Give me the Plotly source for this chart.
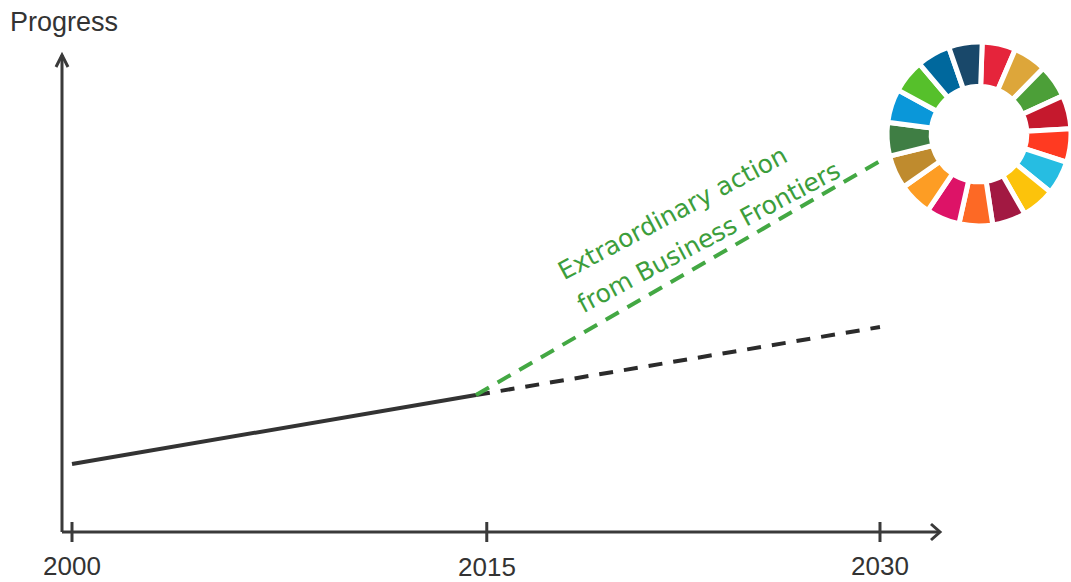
import plotly.graph_objects as go

# ---- data ----
hist_years = [2000, 2015]
hist_progress = [14.26, 28.72]
bau_years = [2015, 2030]
bau_progress = [28.72, 42.98]
extra_years = [2015, 2030]
extra_progress = [28.72, 77.78]

tick_positions = [2000, 2015.4, 2030]
tick_labels = ["2000", "2015", "2030"]
tick_label_shift = [-34, -35, -34]

y_title = "Progress"
extra_label_lines = ["Extraordinary action", "from Business Frontiers"]

sdg_goals = [str(i) for i in range(1, 18)]
sdg_share = [1] * 17
sdg_colors = ["#E5243B", "#DDA63A", "#4C9F38", "#C5192D", "#FF3A21", "#26BDE2",
              "#FCC30B", "#A21942", "#FD6925", "#DD1367", "#FD9D24", "#BF8B2E",
              "#3F7E44", "#0A97D9", "#56C02B", "#00689D", "#19486A"]

# ---- geometry / style ----
W, H = 1071, 582
PX_PER_YEAR = 26.933
PX_PER_UNIT = 4.77
X0_PX, Y0_PX = 72, 532          # pixel of year 2000 / progress 0


def xval(px):
    return 2000 + (px - X0_PX) / PX_PER_YEAR


def yval(py):
    return (Y0_PX - py) / PX_PER_UNIT


x_org, x_end = xval(62), xval(940)
y_org, y_end = 0, 100
axis_col = "#3a3a3a"
green_line = "#43a843"
green_text = "#3c9e3c"

fig = go.Figure()

fig.add_trace(go.Scatter(x=hist_years, y=hist_progress, mode="lines",
                         line=dict(color="#333333", width=4), hoverinfo="skip",
                         showlegend=False))
fig.add_trace(go.Scatter(x=bau_years, y=bau_progress, mode="lines",
                         line=dict(color="#2b2b2b", width=4, dash="14px,11px"),
                         hoverinfo="skip", showlegend=False))
fig.add_trace(go.Scatter(x=extra_years, y=extra_progress, mode="lines",
                         line=dict(color=green_line, width=4, dash="15px,10px"),
                         hoverinfo="skip", showlegend=False))

fig.add_trace(go.Pie(labels=sdg_goals, values=sdg_share, sort=False,
                     direction="clockwise", rotation=2, hole=0.52,
                     marker=dict(colors=sdg_colors, line=dict(color="white", width=5)),
                     textinfo="none", hoverinfo="label", showlegend=False,
                     domain=dict(x=[887 / W, 1071 / W], y=[1 - 226 / H, 1 - 42 / H])))

shapes = []
shapes.append(dict(type="line", xref="x", yref="y", x0=x_org, x1=x_org, y0=y_org, y1=y_end,
                   line=dict(color=axis_col, width=3)))
shapes.append(dict(type="line", xref="x", yref="y", x0=x_org, x1=x_end, y0=y_org, y1=y_org,
                   line=dict(color=axis_col, width=3)))
shapes.append(dict(type="path", xref="x", yref="y", xsizemode="pixel", ysizemode="pixel",
                   xanchor=x_org, yanchor=y_end, path="M-6,-12 L0,0 L6,-12",
                   line=dict(color=axis_col, width=3)))
shapes.append(dict(type="path", xref="x", yref="y", xsizemode="pixel", ysizemode="pixel",
                   xanchor=x_end, yanchor=y_org, path="M-9,8 L0,0 L-9,-8",
                   line=dict(color=axis_col, width=3)))
for t in tick_positions:
    shapes.append(dict(type="line", xref="x", yref="y", ysizemode="pixel", yanchor=y_org,
                       x0=t, x1=t, y0=-10, y1=10, line=dict(color=axis_col, width=3)))

annotations = []
for t, lab, sh in zip(tick_positions, tick_labels, tick_label_shift):
    annotations.append(dict(x=t, y=y_org, xref="x", yref="y", text=lab, showarrow=False,
                            yshift=sh, font=dict(family="Liberation Sans", size=26, color="#333333")))
annotations.append(dict(x=8 / W, y=1 - 22 / H, xref="paper", yref="paper", text=y_title,
                        showarrow=False, xanchor="left", yanchor="middle",
                        font=dict(family="Liberation Sans", size=27, color="#333333")))
label_pos = [(672, 213), (708, 237)]
for txt, (px, py) in zip(extra_label_lines, label_pos):
    annotations.append(dict(x=xval(px), y=yval(py), xref="x", yref="y", text=txt,
                            showarrow=False, textangle=-28,
                            font=dict(family="DejaVu Sans", size=25, color=green_text)))

fig.update_layout(
    width=W, height=H,
    margin=dict(l=0, r=0, t=0, b=0),
    paper_bgcolor="white", plot_bgcolor="white",
    xaxis=dict(domain=[30 / W, 990 / W], range=[xval(30), xval(990)], visible=False,
               fixedrange=True),
    yaxis=dict(domain=[1 - 575 / H, 1 - 30 / H], range=[yval(575), yval(30)], visible=False,
               fixedrange=True),
    shapes=shapes, annotations=annotations,
)

fig.write_html("out.html", config={"displayModeBar": False},
               post_script="document.body.style.margin='0';document.body.style.overflow='hidden';")
